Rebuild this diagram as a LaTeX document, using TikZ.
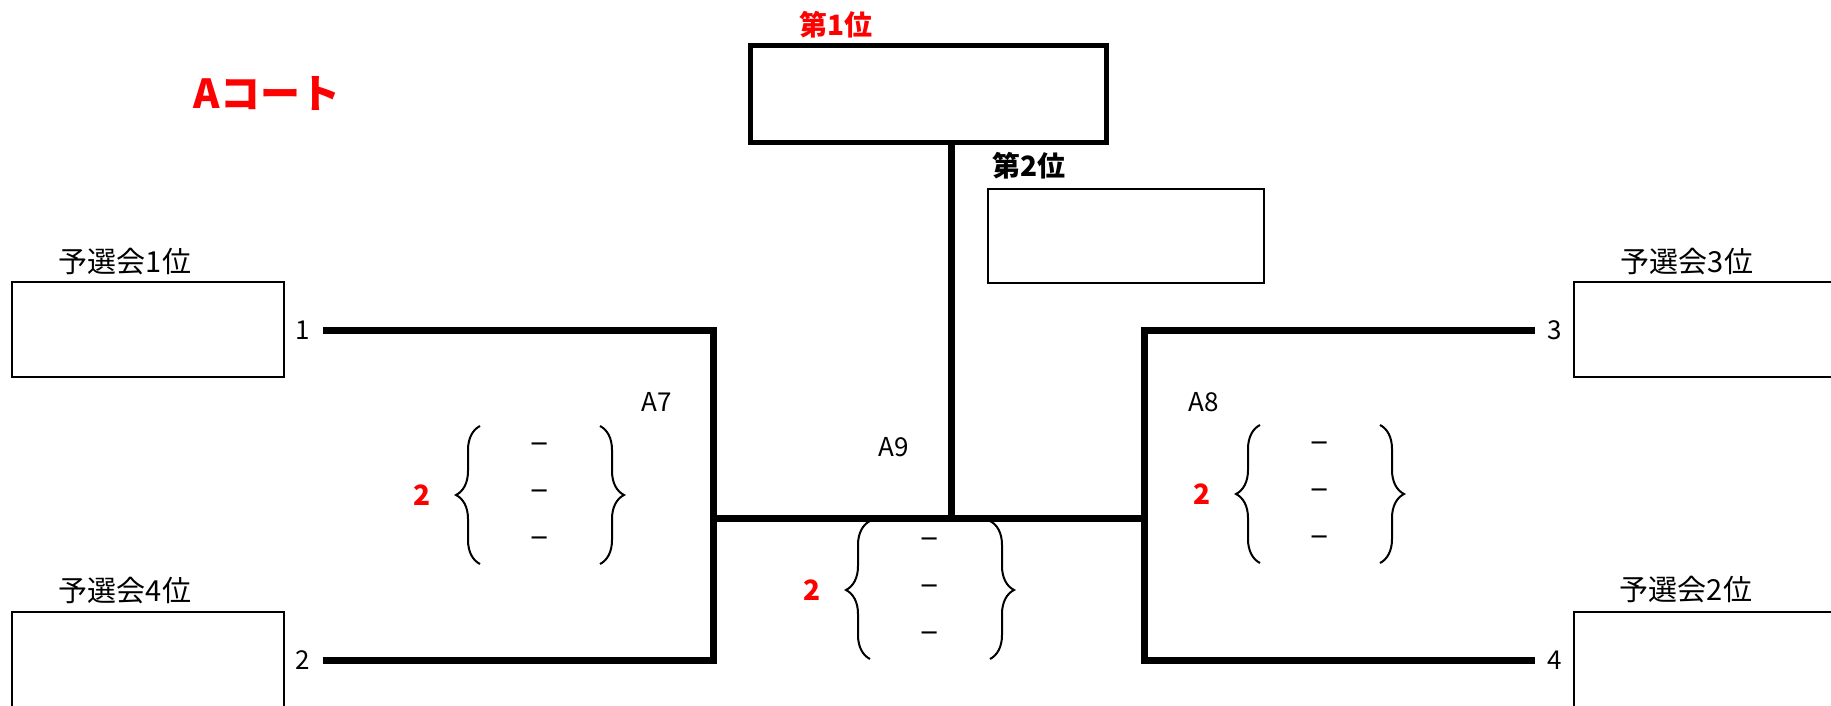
\documentclass[tikz,border=0pt]{standalone}
\usepackage{fontspec}
\setmainfont{Noto Sans CJK JP}
\usetikzlibrary{decorations.pathreplacing,calc}
\tikzstyle{box}=[rectangle, draw=black, line width=1pt, minimum width=136pt, minimum height=47.5pt, inner sep=0pt, anchor=center]
\tikzstyle{annot}=[align=center, inner sep=0pt, font=\fontsize{14.5}{16}\selectfont]
\tikzstyle{num}=[inner sep=0pt, font=\fontsize{13}{15}\selectfont]
\tikzstyle{redmark}=[inner sep=0pt, text=red, font=\bfseries\fontsize{14}{16}\selectfont]
\tikzstyle{hyph}=[inner sep=0pt, font=\fontsize{17}{19}\selectfont]
\tikzstyle{bracket}=[line width=3.5pt]
\tikzstyle{curly}=[line width=1pt, decorate, decoration={brace, amplitude=12pt}]
\newcommand{\drawscore}[3]
{
  \coordinate (#1) at (#2,#3);
  \node[redmark] (#1n) at ({#2-118},#3) {2};
  \node[hyph] (#1d1) at (#2,{#3-47}) {–};
  \node[hyph] (#1d2) at (#1) {–};
  \node[hyph] (#1d3) at (#2,{#3+47}) {–};
  \coordinate (#1lt) at ({#2-60},{#3-69});
  \coordinate (#1lb) at ({#2-60},{#3+69});
  \coordinate (#1rt) at ({#2+60},{#3-69});
  \coordinate (#1rb) at ({#2+60},{#3+69});
  \draw[curly] (#1lb) -- (#1lt);
  \draw[curly] (#1rt) -- (#1rb);
}

\begin{document}
\begin{tikzpicture}[x=0.5pt, y=-0.5pt]
	\useasboundingbox (0,0) rectangle (1831,706);
	\clip (0,0) rectangle (1831,706);

	\node[annot, text=red, font=\bfseries\fontsize{20}{22}\selectfont] (court) at (267,94) {Aコート};

	\node[box, minimum width=178pt, minimum height=48.5pt, line width=2.5pt] (champ) at (928,94.5) {};
	\node[annot, text=red, font=\bfseries\fontsize{14}{16}\selectfont] (champlbl) at (836,25) {第1位};
	\node[box, minimum width=138pt, minimum height=47pt] (second) at (1126,236) {};
	\node[annot, font=\bfseries\fontsize{14}{16}\selectfont] (secondlbl) at (1029,166) {第2位};

	\node[box] (q1) at (148,329.5) {};
	\node[annot] (q1lbl) at (125,262) {予選会1位};
	\node[box] (q4) at (148,659) {};
	\node[annot] (q4lbl) at (125,591) {予選会4位};
	\node[box] (q3) at (1710,329.5) {};
	\node[annot] (q3lbl) at (1687,262) {予選会3位};
	\node[box] (q2) at (1710,659) {};
	\node[annot] (q2lbl) at (1686,590) {予選会2位};

	\node[num] (n1) at (303,330) {1};
	\node[num] (n2) at (303,660) {2};
	\node[num] (n3) at (1555,330) {3};
	\node[num] (n4) at (1555,660) {4};

	\node[num] (a7) at (657,402) {A7};
	\node[num] (a8) at (1204,402) {A8};
	\node[num] (a9) at (894,447) {A9};

	\coordinate (e1) at (323,330);
	\coordinate (e2) at (323,660);
	\coordinate (e3) at (1535,330);
	\coordinate (e4) at (1535,660);
	\coordinate (j7) at (713,518);
	\coordinate (j8) at (1144,518);
	\coordinate (j9) at (951,518);

	\draw[bracket] (e1) -| (j7) |- (e2);
	\draw[bracket] (e3) -| (j8) |- (e4);
	\draw[bracket] (j7) -- (j8);
	\draw[bracket] (champ.south -| j9) -- (j9);

	\drawscore{s7}{540}{495}
	\drawscore{s9}{930}{590}
	\drawscore{s8}{1320}{494}
\end{tikzpicture}
\end{document}
